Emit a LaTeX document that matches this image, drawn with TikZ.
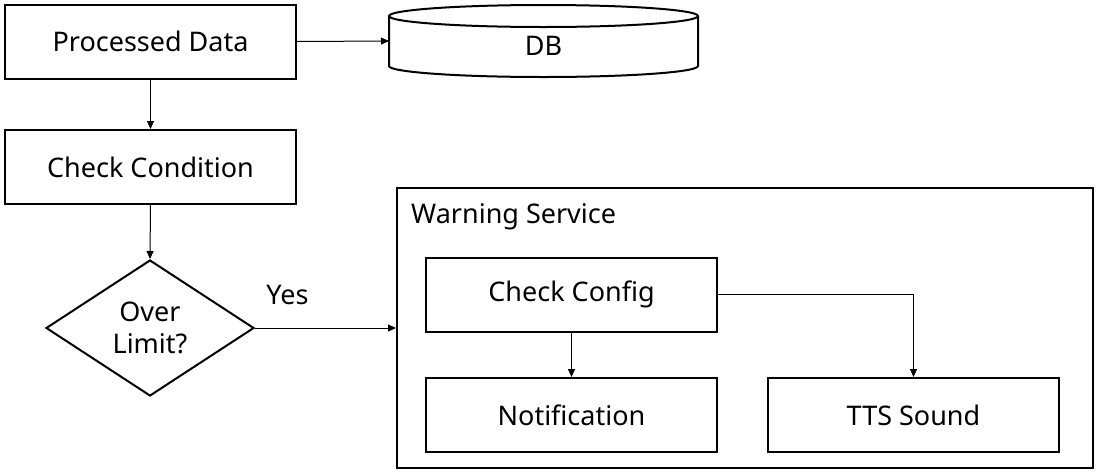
\documentclass[tikz,border=0pt]{standalone}
\usepackage{fontspec}
\setmainfont{Noto Sans}
\usetikzlibrary{arrows.meta,shapes.geometric}
\begin{document}
\begin{tikzpicture}[x=1pt,y=-1pt,
  box/.style={draw,line width=2pt,rectangle,minimum width=291pt,minimum height=74pt,inner sep=0pt,font=\fontsize{27}{32}\selectfont},
  conn/.style={line width=1pt,-{Triangle[length=8pt,width=7pt]}},
  lbl/.style={font=\fontsize{27}{32}\selectfont,inner sep=0pt}]
\useasboundingbox (0,0) rectangle (1101,472);
\node[box] (pd) at (150.5,41.5) {Processed Data};
\node[box] (cc) at (150.5,167) {Check Condition};
\node[draw,line width=2pt,diamond,minimum width=208pt,minimum height=136pt,inner sep=0pt,aspect=1.53,font=\fontsize{27}{32}\selectfont,align=center] (ol) at (150,328) {Over\\Limit?};
% DB cylinder
\coordinate (dbl) at (389,41);
\draw[line width=2pt] (389,16) -- (389,66) arc[start angle=180,end angle=360,x radius=154.5,y radius=-11] -- (698,16);
\draw[line width=2pt] (543.5,16) ellipse[x radius=154.5,y radius=11];
\node[lbl] (db) at (543.5,46) {DB};
% container
\node[draw,line width=2pt,minimum width=696pt,minimum height=280pt,inner sep=0pt] (ws) at (745,328) {};
\node[lbl,anchor=west] (wst) at (411,217) {Warning Service};
\node[box] (cf) at (571.5,294.5) {Check Config};
\node[box] (nt) at (571.5,415) {Notification};
\node[box] (tts) at (913.5,415) {TTS Sound};
\coordinate (wsl) at (ws.west |- ol.east);
% connectors
\draw[conn] (pd.east) -- (dbl);
\draw[conn] (pd.south) -- (cc.north);
\draw[conn] (cc.south) -- (ol.north);
\draw[conn] (ol.east) -- node[lbl,above=23pt,pos=0.23] (yes) {Yes} (wsl);
\draw[conn] (cf.south) -- (nt.north);
\draw[conn] (cf.east) -| (tts.north);
\end{tikzpicture}
\end{document}
